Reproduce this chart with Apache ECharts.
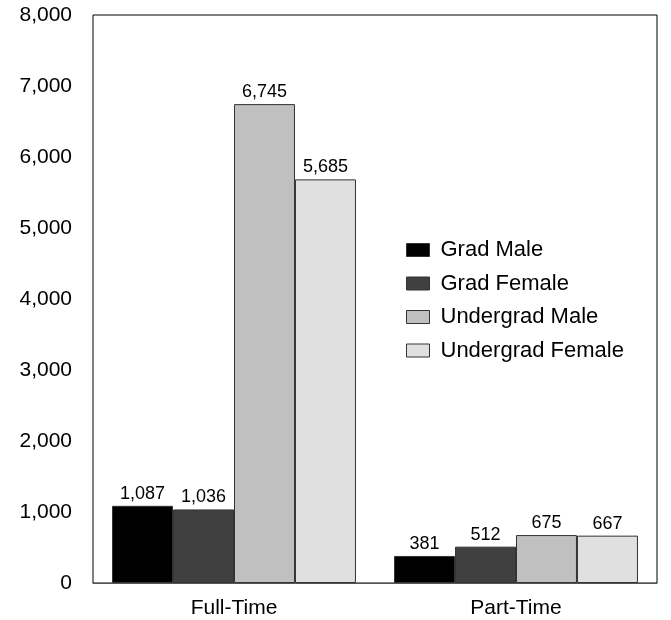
<!DOCTYPE html>
<html><head><meta charset="utf-8">
<script src="https://cdn.jsdelivr.net/npm/echarts@6/dist/echarts.min.js"></script>
<style>html,body{margin:0;padding:0;background:#fff}#c{width:671px;height:620px}</style>
</head><body><div id="c"></div>
<script>
const categories = ['Full-Time', 'Part-Time'];
const seriesNames = ['Grad Male', 'Grad Female', 'Undergrad Male', 'Undergrad Female'];
const gradMale = [1087, 381];
const gradFemale = [1036, 512];
const undergradMale = [6745, 675];
const undergradFemale = [5685, 667];
const colors = ['#000000', '#404040', '#c0c0c0', '#e0e0e0'];
const values = [gradMale, gradFemale, undergradMale, undergradFemale];

const font = 'Liberation Sans, Arial, sans-serif';
const chart = echarts.init(document.getElementById('c'), null, {renderer: 'canvas'});
chart.setOption({
  animation: false,
  backgroundColor: '#fff',
  grid: {left: 93, right: 14, top: 15, bottom: 37, show: true, borderColor: '#000', borderWidth: 1, backgroundColor: 'transparent'},
  legend: {
    orient: 'vertical', left: 401, top: 234, itemGap: 11.5, itemWidth: 23, itemHeight: 13,
    icon: 'rect',
    textStyle: {fontFamily: font, fontSize: 22, color: '#000', padding: [0, 0, 0, 6]},
    data: seriesNames.map((n, i) => ({name: n, itemStyle: {color: colors[i], borderColor: '#333', borderWidth: 1}}))
  },
  xAxis: {
    type: 'category', data: categories,
    axisLine: {lineStyle: {color: '#555', width: 1}}, axisTick: {show: false},
    axisLabel: {fontFamily: font, fontSize: 21, color: '#000', margin: 15}
  },
  yAxis: {
    type: 'value', min: 0, max: 8000, interval: 1000,
    axisLine: {show: false}, axisTick: {show: false}, splitLine: {show: false},
    axisLabel: {fontFamily: font, fontSize: 21, color: '#000', margin: 21,
      formatter: v => v.toLocaleString('en-US')}
  },
  series: values.map((d, i) => ({
    name: seriesNames[i], type: 'bar', data: d, barGap: '0%', barCategoryGap: '13.5%',
    itemStyle: {color: colors[i], borderColor: '#333', borderWidth: 1},
    label: {show: true, position: 'top', distance: 3, fontFamily: font, fontSize: 18, color: '#000',
      formatter: p => p.value.toLocaleString('en-US')}
  }))
});
</script></body></html>
